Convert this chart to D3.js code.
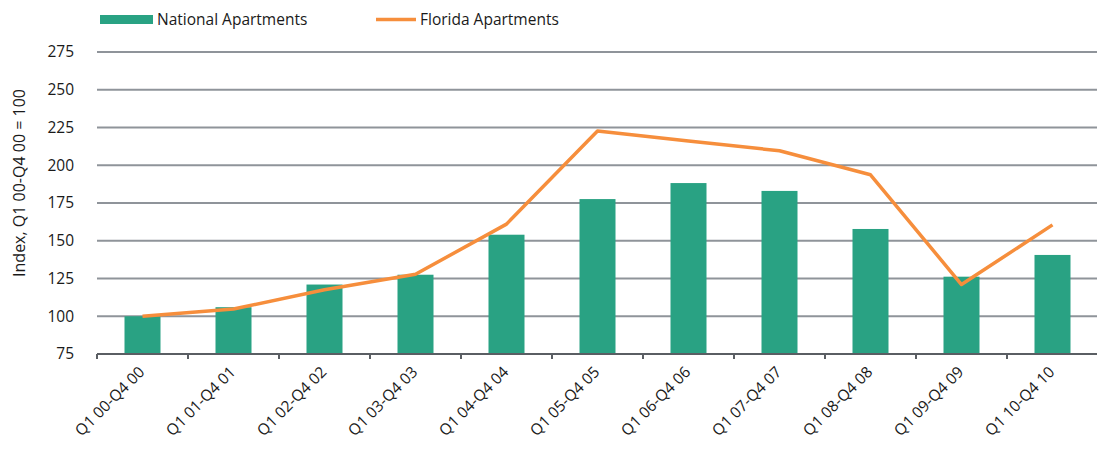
<!DOCTYPE html>
<meta charset="utf-8">
<script src="https://d3js.org/d3.v7.min.js"></script>
<style>
  body { margin: 0; background: #fff; }
  text { font-family: "Open Sans", "Noto Sans", sans-serif; fill: #1a1a1a; }
</style>
<div id="chart"></div>
<script>
  // data
  var categories = ["Q1 00-Q4 00", "Q1 01-Q4 01", "Q1 02-Q4 02", "Q1 03-Q4 03", "Q1 04-Q4 04",
    "Q1 05-Q4 05", "Q1 06-Q4 06", "Q1 07-Q4 07", "Q1 08-Q4 08", "Q1 09-Q4 09", "Q1 10-Q4 10"];
  var national = [100, 106, 121, 127.5, 154, 177.6, 188.2, 183, 157.8, 126.2, 140.6];
  var florida = [100, 104.8, 117.5, 127.8, 161, 222.7, 216, 209.6, 193.7, 121, 160.5];
  var yTicks = [75, 100, 125, 150, 175, 200, 225, 250, 275];

  var width = 1097, height = 459;
  var margin = { top: 52, right: 0, bottom: 105, left: 97 };
  var fontSize = "15.5px";

  var svg = d3.select("#chart")
    .append("svg")
    .attr("width", width)
    .attr("height", height);

  var x = d3.scaleBand()
    .domain(categories)
    .range([margin.left, 1098])
    .padding(0);

  var y = d3.scaleLinear()
    .domain([75, 275])
    .range([354, margin.top]);

  // grid lines
  svg.append("g")
    .selectAll("line")
    .data(yTicks.filter(function (d) { return d > 75; }))
    .enter()
    .append("line")
    .attr("x1", margin.left)
    .attr("x2", width)
    .attr("y1", function (d) { return y(d); })
    .attr("y2", function (d) { return y(d); })
    .attr("stroke", "#8f949a")
    .attr("stroke-width", 2);

  // y axis labels
  var yAxis = svg.append("g")
    .attr("transform", "translate(" + margin.left + ",0)")
    .call(d3.axisLeft(y).tickValues(yTicks).tickSize(0).tickPadding(23));
  yAxis.select(".domain").remove();
  yAxis.selectAll("text")
    .style("font-size", fontSize)
    .attr("fill", "#1a1a1a");

  // y axis title
  svg.append("text")
    .attr("transform", "translate(25,183) rotate(-90)")
    .attr("text-anchor", "middle")
    .style("font-size", "16px")
    .text("Index, Q1 00-Q4 00 = 100");

  // bars
  var barW = 36;
  svg.append("g")
    .selectAll("rect")
    .data(national)
    .enter()
    .append("rect")
    .attr("x", function (d, i) { return x(categories[i]) + x.bandwidth() / 2 - barW / 2; })
    .attr("y", function (d) { return y(d); })
    .attr("width", barW)
    .attr("height", function (d) { return y(75) - y(d); })
    .attr("fill", "#29a283");

  // x axis
  var xAxis = svg.append("g")
    .attr("transform", "translate(0," + y(75) + ")");
  xAxis.append("line")
    .attr("x1", margin.left)
    .attr("x2", width)
    .attr("stroke", "#5a5e63")
    .attr("stroke-width", 2);
  xAxis.selectAll(".tickmark")
    .data(categories)
    .enter()
    .append("line")
    .attr("class", "tickmark")
    .attr("x1", function (d) { return x(d); })
    .attr("x2", function (d) { return x(d); })
    .attr("y1", 0)
    .attr("y2", 5)
    .attr("stroke", "#5a5e63")
    .attr("stroke-width", 2);
  xAxis.selectAll(".xlabel")
    .data(categories)
    .enter()
    .append("text")
    .attr("class", "xlabel")
    .attr("text-anchor", "end")
    .style("font-size", fontSize)
    .attr("transform", function (d) {
      return "translate(" + (x(d) + x.bandwidth() / 2 + 3) + ",19) rotate(-45)";
    })
    .text(function (d) { return d; });

  // line
  var line = d3.line()
    .x(function (d, i) { return x(categories[i]) + x.bandwidth() / 2; })
    .y(function (d) { return y(d); });
  svg.append("path")
    .datum(florida)
    .attr("d", line)
    .attr("fill", "none")
    .attr("stroke", "#f68e3c")
    .attr("stroke-width", 3.5)
    .attr("stroke-linejoin", "round");

  // legend
  var legend = svg.append("g");
  legend.append("rect")
    .attr("x", 100).attr("y", 15)
    .attr("width", 53).attr("height", 9)
    .attr("fill", "#29a283");
  legend.append("text")
    .attr("x", 157).attr("y", 25)
    .style("font-size", fontSize)
    .text("National Apartments");
  legend.append("line")
    .attr("x1", 376).attr("x2", 416)
    .attr("y1", 19.5).attr("y2", 19.5)
    .attr("stroke", "#f68e3c")
    .attr("stroke-width", 3.5);
  legend.append("text")
    .attr("x", 420).attr("y", 25)
    .style("font-size", fontSize)
    .text("Florida Apartments");
</script>
